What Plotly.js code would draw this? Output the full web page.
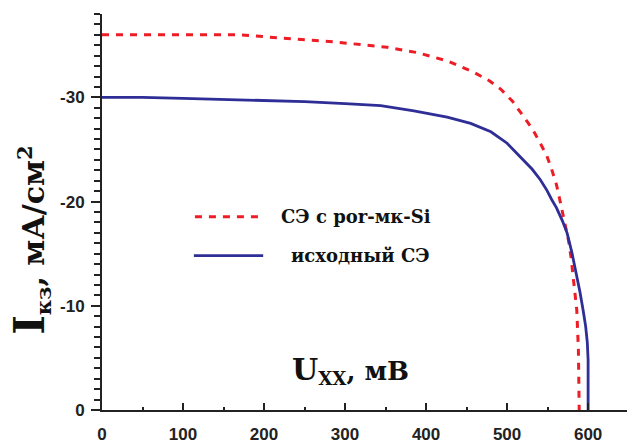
<!DOCTYPE html>
<html><head><meta charset="utf-8">
<script src="https://cdn.plot.ly/plotly-3.0.1.min.js"></script>
<style>html,body{margin:0;padding:0;background:#fff}#chart{width:627px;height:445px}</style>
</head><body><div id="chart"></div>
<script>
// Series: исходный СЭ (solid blue)
const baseU = [0, 50, 100, 150, 200, 250, 300, 344, 385, 426, 455, 480, 500, 520, 531, 541, 549, 555, 561, 568, 574, 580, 586, 590, 594, 597, 599, 600, 600];
const baseI = [-30.0, -30.0, -29.9, -29.8, -29.7, -29.6, -29.4, -29.2, -28.7, -28.1, -27.5, -26.7, -25.6, -24.0, -23.1, -22.1, -21.1, -20.2, -19.4, -18.2, -17.0, -15.1, -13.0, -11.3, -9.5, -8.0, -6.5, -4.8, 0];
// Series: СЭ с por-мк-Si (red dashed)
const porU = [0, 100, 171, 220, 290, 352, 389, 426, 459, 478, 492, 507, 520, 531, 541, 549, 555, 561, 565, 571, 576, 579, 582, 586, 588, 589];
const porI = [-36.0, -36.0, -36.0, -35.7, -35.3, -34.8, -34.3, -33.5, -32.4, -31.6, -30.8, -29.6, -28.2, -27.0, -25.6, -24.4, -23.1, -21.6, -20.2, -18.1, -16.2, -14.6, -12.7, -9.6, -5.8, 0];
const seriesNames = ['СЭ с por-мк-Si', 'исходный СЭ'];
const xTicks = [0, 100, 200, 300, 400, 500, 600];
const yTicks = [0, -10, -20, -30];
const yTickText = ['0', '-10', '-20', '-30'];

const red = '#ee1c25', blue = '#2e2e96';
const traces = [
  {x: porU, y: porI, mode: 'lines', name: seriesNames[0], line: {color: red, width: 3, dash: '7px,7px'}},
  {x: baseU, y: baseI, mode: 'lines', name: seriesNames[1], line: {color: blue, width: 2.8}}
];
const axisCol = '#222';
const layout = {
  width: 627, height: 445,
  margin: {l: 102, r: 0, t: 14, b: 35},
  paper_bgcolor: '#fff', plot_bgcolor: '#fff',
  showlegend: false,
  xaxis: {
    range: [0, 648], showgrid: false, zeroline: false,
    showline: true, linecolor: axisCol, linewidth: 2,
    tickmode: 'array', tickvals: xTicks,
    ticks: 'inside', ticklen: 7, tickwidth: 2, tickcolor: axisCol,
    minor: {dtick: 50, tick0: 0, ticks: 'inside', ticklen: 3, tickwidth: 2, tickcolor: axisCol},
    tickfont: {family: 'Liberation Sans, Arial', size: 17, color: '#222', weight: 'bold'},
    ticklabelstandoff: 8
  },
  yaxis: {
    range: [0, -38], showgrid: false, zeroline: false,
    showline: true, linecolor: axisCol, linewidth: 2,
    tickmode: 'array', tickvals: yTicks, ticktext: yTickText,
    ticks: 'outside', ticklen: 9, tickwidth: 2, tickcolor: axisCol,
    minor: {dtick: 1, tick0: 0, ticks: 'outside', ticklen: 6, tickwidth: 2, tickcolor: axisCol},
    tickfont: {family: 'Liberation Sans, Arial', size: 17, color: '#222', weight: 'bold'},
    ticklabelstandoff: 3
  },
  shapes: [
    {type: 'line', xref: 'paper', yref: 'paper', x0: 0.177, x1: 0.307, y0: 0.488, y1: 0.488, line: {color: red, width: 3, dash: '7px,7px'}},
    {type: 'line', xref: 'paper', yref: 'paper', x0: 0.175, x1: 0.307, y0: 0.390, y1: 0.390, line: {color: blue, width: 2.8}}
  ],
  annotations: [
    {xref: 'paper', yref: 'paper', x: 0.337, y: 0.488, xanchor: 'left', yanchor: 'middle', showarrow: false,
     text: seriesNames[0], font: {family: 'DejaVu Serif', size: 18, color: '#111', weight: 'bold'}},
    {xref: 'paper', yref: 'paper', x: 0.356, y: 0.390, xanchor: 'left', yanchor: 'middle', showarrow: false,
     text: seriesNames[1], font: {family: 'DejaVu Serif', size: 18, color: '#111', weight: 'bold'}},
    {xref: 'paper', yref: 'paper', x: 0.358, y: 0.10, xanchor: 'left', yanchor: 'middle', showarrow: false,
     text: '<span style="font-size:30px">U</span><sub>XX</sub>, мВ', font: {family: 'DejaVu Serif', size: 26, color: '#111', weight: 'bold'}},
    {xref: 'paper', yref: 'paper', x: -0.137, y: 0.43, xanchor: 'center', yanchor: 'middle', showarrow: false, textangle: -90,
     text: '<span style="font-size:42px">I</span><sub>кз</sub>, мА/см<sup>2</sup>', font: {family: 'DejaVu Serif', size: 30, color: '#111', weight: 'bold'}}
  ]
};
Plotly.newPlot('chart', traces, layout, {displayModeBar: false, staticPlot: true});
</script></body></html>
